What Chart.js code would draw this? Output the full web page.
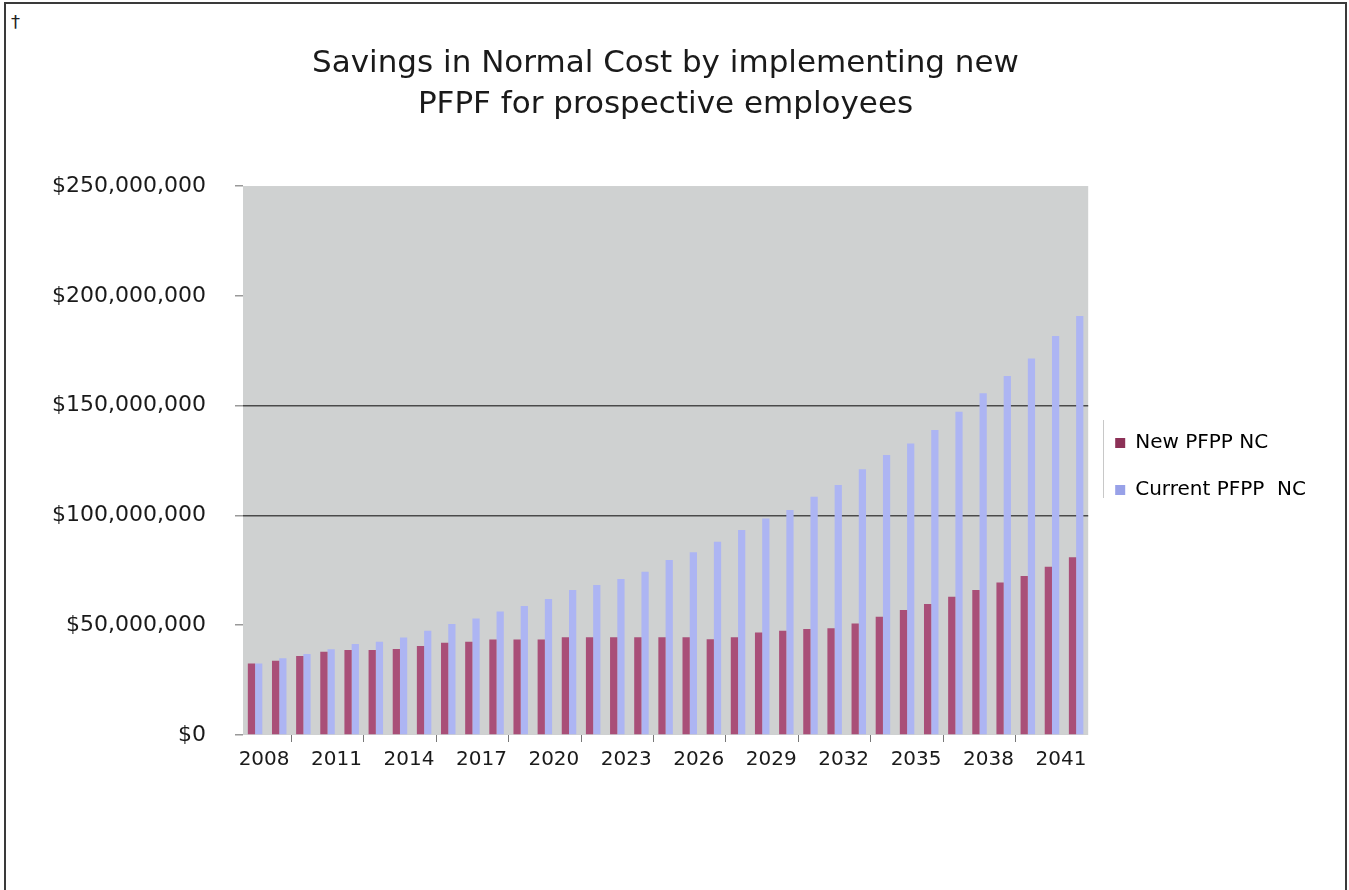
<!DOCTYPE html>
<html>
<head>
<meta charset="utf-8">
<title>Savings in Normal Cost</title>
<script src="https://cdn.jsdelivr.net/npm/chart.js"></script>
<style>
  body { margin: 0; background: #fff; }
  #wrap { position: relative; width: 1349px; height: 890px; overflow: hidden; }
  #frame { position: absolute; left: 4px; top: 2px; width: 1339px; height: 900px; border: 2px solid #3a3a3a; border-bottom: none; }
  #dagger { position: absolute; left: 11px; top: 11px; font: 18px "DejaVu Sans"; color: #222; }
  #chart { position: absolute; left: 0; top: 0; }
</style>
</head>
<body>
<div id="wrap">
  <div id="frame"></div>
  <span id="dagger">†</span>
  <canvas id="chart" width="1349" height="890"></canvas>
</div>
<script>
// 연도별 정상비용 (New vs Current)
const years = ["2008","2009","2010","2011","2012","2013","2014","2015","2016","2017",
	"2018","2019","2020","2021","2022","2023","2024","2025","2026","2027",
	"2028","2029","2030","2031","2032","2033","2034","2035","2036","2037",
	"2038","2039","2040","2041","2042"];

const newNC = [32600000, 33800000, 36000000, 37900000, 38700000, 38700000, 39200000, 40500000, 42000000, 42500000,
	43500000, 43500000, 43500000, 44500000, 44500000, 44500000, 44500000, 44500000, 44500000, 43600000,
	44500000, 46700000, 47500000, 48300000, 48600000, 50800000, 53900000, 56900000, 59700000, 63000000,
	66000000, 69400000, 72400000, 76600000, 80900000];

const currentNC = [32600000, 34900000, 36900000, 39000000, 41400000, 42500000, 44400000, 47500000, 50500000, 53100000,
	56200000, 58700000, 61900000, 66000000, 68300000, 71000000, 74400000, 79700000, 83200000, 88000000,
	93300000, 98600000, 102500000, 108500000, 113800000, 121000000, 127500000, 132800000, 138900000, 147200000,
	155600000, 163500000, 171500000, 181700000, 190800000];

const yTicks = [0, 50000000, 100000000, 150000000, 200000000, 250000000];
const shownGrid = [100000000, 150000000];

const FONT = "'DejaVu Sans', sans-serif";

// 플롯 영역 회색 배경 + 범례 왼쪽 선
const plotBackground = {
	id: 'plotBackground',
	beforeDraw(chart) {
		const {ctx, chartArea} = chart;
		ctx.save();
		ctx.fillStyle = '#cfd1d1';
		ctx.fillRect(chartArea.left, chartArea.top, chartArea.right - chartArea.left, chartArea.bottom - chartArea.top);
		ctx.restore();
	},
	afterDraw(chart) {
		const x = Math.round(chart.legend.left) + 15.5;
		const ctx = chart.ctx;
		ctx.save();
		ctx.strokeStyle = '#c8c8c8';
		ctx.lineWidth = 1;
		ctx.beginPath();
		ctx.moveTo(x, 420);
		ctx.lineTo(x, 498);
		ctx.stroke();
		ctx.restore();
	}
};

const ctx = document.getElementById("chart");

const config = {
	type: 'bar',
	data: {
		labels: years,
		datasets: [{
			label: 'New PFPP NC',
			data: newNC,
			backgroundColor: '#a94f78',
			borderWidth: 0
		}, {
			label: 'Current PFPP  NC',
			data: currentNC,
			backgroundColor: '#adb5f3',
			borderWidth: 0
		}]
	},
	options: {
		responsive: false,
		animation: false,
		layout: {
			padding: { top: 43, right: 33, bottom: 0, left: 15 }
		},
		datasets: {
			bar: { categoryPercentage: 0.6, barPercentage: 1.0 }
		},
		plugins: {
			title: {
				display: true,
				text: ['Savings in Normal Cost by implementing new', 'PFPF for prospective employees'],
				color: '#1a1a1a',
				font: { family: FONT, size: 31, weight: 'normal', lineHeight: 1.323 },
				padding: { top: 0, bottom: 61 }
			},
			legend: {
				position: 'right',
				labels: {
					color: '#1a1a1a',
					font: { family: FONT, size: 20 },
					boxWidth: 10,
					boxHeight: 10,
					padding: 27,
					generateLabels(chart) {
						const fills = ['#8c3157', '#98a1e8'];
						return chart.data.datasets.map((d, i) => ({
							text: d.label,
							fillStyle: fills[i],
							strokeStyle: fills[i],
							lineWidth: 0,
							datasetIndex: i
						}));
					}
				}
			},
			tooltip: { enabled: false }
		},
		scales: {
			x: {
				border: { display: false },
				grid: {
					drawOnChartArea: false,
					tickLength: 7,
					tickColor(c) {
						return c.index % 3 === 2 ? '#777' : 'rgba(0,0,0,0)';
					}
				},
				ticks: {
					autoSkip: false,
					maxRotation: 0,
					padding: 6,
					labelOffset: 9,
					color: '#1a1a1a',
					font: { family: FONT, size: 20 },
					callback(value, index) {
						return index % 3 === 0 ? years[index] : '';
					}
				},
				afterFit(scale) { scale.height = 155; }
			},
			y: {
				min: 0,
				max: 250000000,
				border: { display: false },
				grid: {
					lineWidth: 1.5,
					color(c) {
						return shownGrid.includes(c.tick.value) ? '#4a4a4a' : 'rgba(0,0,0,0)';
					},
					tickColor: '#999',
					tickLength: 8
				},
				afterBuildTicks(scale) {
					scale.ticks = yTicks.map(v => ({ value: v }));
				},
				ticks: {
					padding: 29,
					color: '#1a1a1a',
					font: { family: FONT, size: 22 },
					callback(value) {
						return '$' + value.toLocaleString('en-US');
					}
				},
				afterFit(scale) { scale.width = 228; }
			}
		}
	},
	plugins: [plotBackground]
};

const myChart = new Chart(ctx, config);
</script>
</body>
</html>
